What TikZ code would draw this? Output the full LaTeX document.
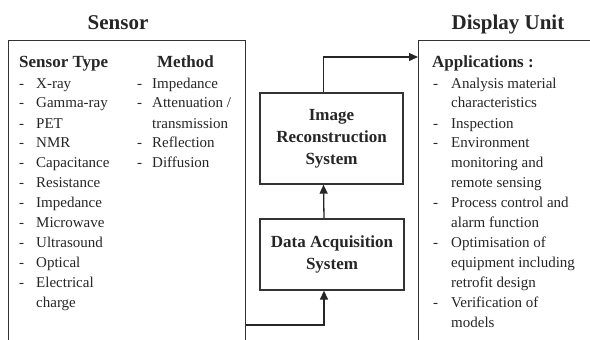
\documentclass[tikz,border=0pt]{standalone}
\usepackage{fontspec}
\setmainfont{Liberation Serif}
\usetikzlibrary{arrows.meta}
\begin{document}
\begin{tikzpicture}[x=1pt,y=-1pt,
  box/.style={draw=black!80, line width=1.3pt},
  conn/.style={draw=black!85, line width=1.3pt},
  arr/.style={conn, -{Triangle[length=9pt,width=8pt]}},
  body/.style={font=\fontsize{15}{20}\selectfont, inner sep=0pt, text=black!85},
  head/.style={font=\fontsize{17}{20}\selectfont\bfseries, inner sep=0pt, text=black!85},
  title/.style={font=\fontsize{21}{24}\selectfont\bfseries, inner sep=0pt, text=black!85},
  sysbox/.style={box, align=center, inner sep=0pt, font=\fontsize{17}{22}\selectfont\bfseries, text=black!85}]
\useasboundingbox (0,0) rectangle (590,340);
\fill[white] (0,0) rectangle (590,340);
\begin{scope}
\clip (0,0) rectangle (590,340);
\node[box, anchor=north west, minimum width=237pt, minimum height=320pt, inner sep=0pt] (sensor) at (8,40) {};
\node[box, anchor=north west, minimum width=200pt, minimum height=320pt, inner sep=0pt] (display) at (418,40) {};
\end{scope}
\node[title, anchor=base] (sensortitle) at (118,30) {Sensor};
\node[title, anchor=base] (displaytitle) at (508,30) {Display Unit};
\node[head, anchor=base west] (stype) at (19,67) {Sensor Type};
\node[head, anchor=base west] (method) at (157,67) {Method};
\node[head, anchor=base west] (apps) at (432,67) {Applications :};
\node[body, anchor=base west] (stlist) at (19,88) {\begin{tabular}[t]{@{}p{17pt}@{}l@{}}
- & X-ray\\ - & Gamma-ray\\ - & PET\\ - & NMR\\ - & Capacitance\\ - & Resistance\\
- & Impedance\\ - & Microwave\\ - & Ultrasound\\ - & Optical\\ - & Electrical\\ & charge
\end{tabular}};
\node[body, anchor=base west] (mlist) at (137,88) {\begin{tabular}[t]{@{}p{15pt}@{}l@{}}
- & Impedance\\ - & Attenuation /\\ & transmission\\ - & Reflection\\ - & Diffusion
\end{tabular}};
\node[body, anchor=base west] (alist) at (433,88) {\begin{tabular}[t]{@{}p{18pt}@{}l@{}}
- & Analysis material\\ & characteristics\\ - & Inspection\\ - & Environment\\ & monitoring and\\ & remote sensing\\
- & Process control and\\ & alarm function\\ - & Optimisation of\\ & equipment including\\ & retrofit design\\
- & Verification of\\ & models
\end{tabular}};
\node[sysbox, minimum width=143pt, minimum height=91pt] (irs) at (331.5,138.5) {Image\\Reconstruction\\System};
\node[sysbox, minimum width=144pt, minimum height=71pt] (daq) at (332,254.5) {Data Acquisition\\System};
\coordinate (lvl) at (0,325);
\coordinate (toplvl) at (0,57);
\draw[arr] (sensor.east |- lvl) -| ([xshift=-8pt]daq.south);
\draw[arr] ([xshift=-8pt]daq.north) -- ([xshift=-8pt]irs.south);
\draw[arr] ([xshift=-8pt]irs.north) |- (display.west |- toplvl);
\end{tikzpicture}
\end{document}
